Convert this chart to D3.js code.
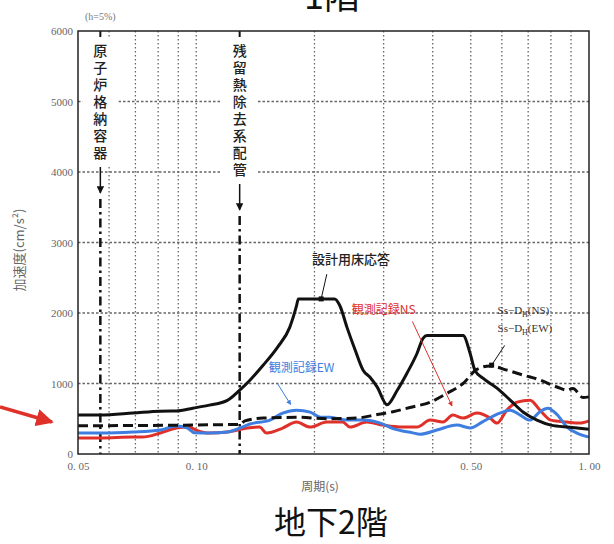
<!DOCTYPE html>
<html>
<head>
<meta charset="utf-8">
<script src="https://cdn.jsdelivr.net/npm/d3@7"></script>
<style>
  body { margin: 0; background: #fff; }
  svg { display: block; }
</style>
</head>
<body>
<div id="chart"></div>
<script>
// period (s) / acceleration (cm/s^2)
const designResponse = [
  [0.05, 552], [0.057, 552], [0.069, 580], [0.081, 608], [0.089, 610], [0.098, 650],
  [0.108, 693], [0.12, 760], [0.129, 905], [0.137, 1047], [0.148, 1259], [0.161, 1513],
  [0.173, 1796], [0.18, 2100], [0.182, 2200], [0.225, 2200], [0.232, 2107], [0.242, 1796],
  [0.254, 1471], [0.266, 1188], [0.277, 1089], [0.289, 948], [0.306, 700], [0.325, 905],
  [0.344, 1146], [0.365, 1429], [0.378, 1641], [0.387, 1680], [0.478, 1680], [0.498, 1430],
  [0.512, 1190], [0.537, 1075], [0.583, 935], [0.63, 765], [0.679, 595], [0.737, 480],
  [0.80, 410], [0.894, 380], [1.0, 350]
];
const ssDh = [
  [0.05, 400], [0.129, 420], [0.133, 470], [0.148, 510], [0.183, 520], [0.215, 500],
  [0.257, 510], [0.289, 560], [0.317, 600], [0.35, 660], [0.394, 735], [0.435, 860],
  [0.478, 1000], [0.518, 1200], [0.56, 1250], [0.618, 1190], [0.679, 1120], [0.75, 1050],
  [0.829, 950], [0.879, 905], [0.91, 930], [0.966, 800], [1.0, 810]
];
const obsNS = [
  [0.05, 226], [0.057, 226], [0.069, 240], [0.073, 240], [0.081, 297], [0.089, 368],
  [0.095, 382], [0.102, 320], [0.108, 297], [0.12, 311], [0.135, 368], [0.145, 382],
  [0.151, 297], [0.166, 368], [0.18, 453], [0.195, 382], [0.215, 453], [0.236, 453],
  [0.246, 382], [0.272, 453], [0.299, 410], [0.33, 382], [0.365, 382], [0.394, 481],
  [0.425, 453], [0.45, 552], [0.478, 509], [0.518, 580], [0.56, 509], [0.583, 438],
  [0.618, 622], [0.656, 735], [0.708, 764], [0.75, 622], [0.80, 481], [0.879, 453],
  [0.948, 438], [1.0, 470]
];
const obsEW = [
  [0.05, 297], [0.057, 297], [0.069, 311], [0.081, 340], [0.089, 396], [0.095, 368],
  [0.099, 300], [0.108, 297], [0.12, 311], [0.129, 368], [0.137, 425], [0.154, 481],
  [0.166, 580], [0.18, 622], [0.195, 594], [0.207, 523], [0.219, 520], [0.242, 481],
  [0.266, 481], [0.294, 438], [0.317, 360], [0.356, 300], [0.371, 280], [0.41, 340],
  [0.461, 410], [0.498, 370], [0.537, 460], [0.593, 580], [0.63, 622], [0.668, 552],
  [0.708, 481], [0.75, 600], [0.786, 650], [0.829, 560], [0.879, 382], [0.932, 297],
  [1.0, 240]
];

const periodLabels = [0.05, 0.10, 0.50, 1.00];
const periodGrid = [0.06, 0.07, 0.08, 0.09, 0.1, 0.2, 0.3, 0.4, 0.5, 0.6, 0.7, 0.8, 0.9];
const accTicks = [0, 1000, 2000, 3000, 4000, 5000, 6000];
const equipment = [
  { name: '原子炉格納容器', period: 0.057 },
  { name: '残留熱除去系配管', period: 0.129 }
];

const W = 614, H = 544;
const margin = { left: 78, top: 31, right: 25, bottom: 90 };
const innerW = W - margin.left - margin.right;
const innerH = H - margin.top - margin.bottom;

const svg = d3.select('#chart').append('svg')
  .attr('width', W)
  .attr('height', H);

const defs = svg.append('defs');
function marker(id, color) {
  defs.append('marker')
    .attr('id', id)
    .attr('viewBox', '0 0 10 10')
    .attr('refX', 9).attr('refY', 5)
    .attr('markerWidth', 5).attr('markerHeight', 5)
    .attr('orient', 'auto-start-reverse')
    .append('path')
    .attr('d', 'M0,0L10,5L0,10z')
    .attr('fill', color);
}
marker('arrBlack', '#111');
marker('arrRed', '#e0302a');
marker('arrBlue', '#3d7ee0');

const x = d3.scaleLog().domain([0.05, 1.0]).range([0, innerW]);
const y = d3.scaleLinear().domain([0, 6000]).range([innerH, 0]);

// partly cut-off title of the panel above
svg.append('text')
  .attr('x', 332).attr('y', 9)
  .attr('text-anchor', 'middle')
  .attr('font-family', 'Noto Sans CJK JP')
  .attr('font-size', 36)
  .attr('fill', '#111')
  .text('1階');

const g = svg.append('g').attr('transform', `translate(${margin.left},${margin.top})`);

// grid
g.append('g')
  .selectAll('line')
  .data(periodGrid)
  .join('line')
  .attr('x1', d => x(d)).attr('x2', d => x(d))
  .attr('y1', 0).attr('y2', innerH)
  .attr('stroke', '#666')
  .attr('stroke-width', 1.3)
  .attr('stroke-dasharray', '1.5,2.5');

g.append('g')
  .selectAll('line')
  .data(accTicks.slice(1, -1))
  .join('line')
  .attr('x1', 0).attr('x2', innerW)
  .attr('y1', d => y(d)).attr('y2', d => y(d))
  .attr('stroke', '#666')
  .attr('stroke-width', 1.3)
  .attr('stroke-dasharray', '2.5,2');

// axes
const serif = '"Liberation Serif", "DejaVu Serif", serif';
const yAxis = g.append('g').call(d3.axisLeft(y).tickValues(accTicks)
  .tickFormat(d3.format('d')).tickSize(0).tickPadding(5));
yAxis.select('.domain').remove();
yAxis.selectAll('text')
  .attr('font-family', serif)
  .attr('font-size', 11)
  .attr('fill', '#666');

const xAxis = g.append('g')
  .attr('transform', `translate(0,${innerH})`)
  .call(d3.axisBottom(x).tickValues(periodLabels).tickSize(0).tickPadding(8)
    .tickFormat(d => d3.format('.2f')(d).replace('.', '. ')));
xAxis.select('.domain').remove();
xAxis.selectAll('text')
  .attr('font-family', serif)
  .attr('font-size', 11)
  .attr('fill', '#666');

// equipment period markers (vertical labels, arrow, dash-dot line)
equipment.forEach(eq => {
  const px = x(eq.period);
  const step = 17;
  const textTop = 13;
  const textBottom = textTop + Array.from(eq.name).length * step;
  g.append('rect')
    .attr('x', px - 18).attr('y', 6)
    .attr('width', 36).attr('height', textBottom - 2)
    .attr('fill', '#fff');
  g.append('line')
    .attr('x1', px).attr('x2', px)
    .attr('y1', 0).attr('y2', 6)
    .attr('stroke', '#111').attr('stroke-width', 2);
  g.append('text')
    .attr('x', px)
    .attr('y', textTop)
    .style('writing-mode', 'vertical-rl')
    .style('letter-spacing', '3px')
    .attr('font-family', 'Noto Sans CJK JP')
    .attr('font-weight', 500)
    .attr('font-size', 14)
    .attr('fill', '#222')
    .text(eq.name);
  g.append('line')
    .attr('x1', px).attr('x2', px)
    .attr('y1', textBottom + 4).attr('y2', textBottom + 30)
    .attr('stroke', '#111').attr('stroke-width', 1.5)
    .attr('marker-end', 'url(#arrBlack)');
  g.append('line')
    .attr('x1', px).attr('x2', px)
    .attr('y1', textBottom + 36).attr('y2', innerH)
    .attr('stroke', '#111').attr('stroke-width', 2.5)
    .attr('stroke-dasharray', '9,4,2.5,4');
});

// series
const line = d3.line()
  .x(d => x(d[0]))
  .y(d => y(d[1]))
  .curve(d3.curveMonotoneX);

const series = [
  { data: obsNS, color: '#e0302a', width: 3, dash: null },
  { data: obsEW, color: '#3d7ee0', width: 3, dash: null },
  { data: ssDh, color: '#111', width: 3, dash: '10,5' },
  { data: designResponse, color: '#111', width: 3, dash: null }
];
g.append('g')
  .selectAll('path')
  .data(series)
  .join('path')
  .attr('d', d => line(d.data))
  .attr('fill', 'none')
  .attr('stroke', d => d.color)
  .attr('stroke-width', d => d.width)
  .attr('stroke-dasharray', d => d.dash)
  .attr('stroke-linejoin', 'round');

// frame
g.append('rect')
  .attr('width', innerW).attr('height', innerH)
  .attr('fill', 'none')
  .attr('stroke', '#222')
  .attr('stroke-width', 1.5);

// annotations
const jp = 'Noto Sans CJK JP';
g.append('text')
  .attr('x', x(0.197)).attr('y', y(2700))
  .attr('font-family', jp).attr('font-size', 13).attr('font-weight', 500)
  .attr('fill', '#222')
  .text('設計用床応答');
g.append('line')
  .attr('x1', x(0.215)).attr('y1', y(2550))
  .attr('x2', x(0.208)).attr('y2', y(2200))
  .attr('stroke', '#111').attr('stroke-width', 1);
g.append('rect')
  .attr('x', x(0.208) - 2.5).attr('y', y(2200) - 2.5)
  .attr('width', 5).attr('height', 5)
  .attr('fill', '#111');

g.append('text')
  .attr('x', x(0.249)).attr('y', y(1980))
  .attr('font-family', jp).attr('font-size', 12)
  .attr('fill', '#e0302a')
  .text('観測記録NS');
g.append('line')
  .attr('x1', x(0.355)).attr('y1', y(1880))
  .attr('x2', x(0.448)).attr('y2', y(680))
  .attr('stroke', '#e0302a').attr('stroke-width', 1)
  .attr('marker-end', 'url(#arrRed)');

g.append('text')
  .attr('x', x(0.153)).attr('y', y(1170))
  .attr('font-family', jp).attr('font-size', 12)
  .attr('fill', '#3d7ee0')
  .text('観測記録EW');
g.append('line')
  .attr('x1', x(0.161)).attr('y1', y(1000))
  .attr('x2', x(0.174)).attr('y2', y(700))
  .attr('stroke', '#3d7ee0').attr('stroke-width', 1)
  .attr('marker-end', 'url(#arrBlue)');

const ssLabels = ['NS', 'EW'];
ssLabels.forEach((dir, i) => {
  const t = g.append('text')
    .attr('x', x(0.585)).attr('y', y(1990 - i * 255))
    .attr('font-family', serif).attr('font-size', 11)
    .attr('fill', '#333');
  t.append('tspan').text('Ss−D');
  t.append('tspan').attr('font-size', 8).attr('dy', 3).text('H');
  t.append('tspan').attr('dy', -3).text(`(${dir})`);
});
g.append('line')
  .attr('x1', x(0.61)).attr('y1', y(1540))
  .attr('x2', x(0.565)).attr('y2', y(1260))
  .attr('stroke', '#111').attr('stroke-width', 1);
g.append('rect')
  .attr('x', x(0.565) - 2.5).attr('y', y(1260) - 2.5)
  .attr('width', 5).attr('height', 5)
  .attr('fill', '#111');

// damping note
svg.append('text')
  .attr('x', 85).attr('y', 20)
  .attr('font-family', serif).attr('font-size', 10)
  .attr('fill', '#777')
  .text('(h=5%)');

// axis titles
svg.append('text')
  .attr('transform', 'translate(24,250) rotate(-90)')
  .attr('text-anchor', 'middle')
  .attr('font-family', jp).attr('font-size', 13)
  .attr('fill', '#666')
  .text('加速度(cm/s²)');

svg.append('text')
  .attr('x', 320).attr('y', 491)
  .attr('text-anchor', 'middle')
  .attr('font-family', jp).attr('font-size', 12)
  .attr('fill', '#666')
  .text('周期(s)');

svg.append('text')
  .attr('x', 331).attr('y', 534)
  .attr('text-anchor', 'middle')
  .attr('font-family', jp).attr('font-size', 32)
  .attr('fill', '#111')
  .text('地下2階');

// red pointer on the left
svg.append('line')
  .attr('x1', 0).attr('y1', 407)
  .attr('x2', 52).attr('y2', 422)
  .attr('stroke', '#e0302a').attr('stroke-width', 3.5)
  .attr('marker-end', 'url(#arrRed)');
</script>
</body>
</html>
